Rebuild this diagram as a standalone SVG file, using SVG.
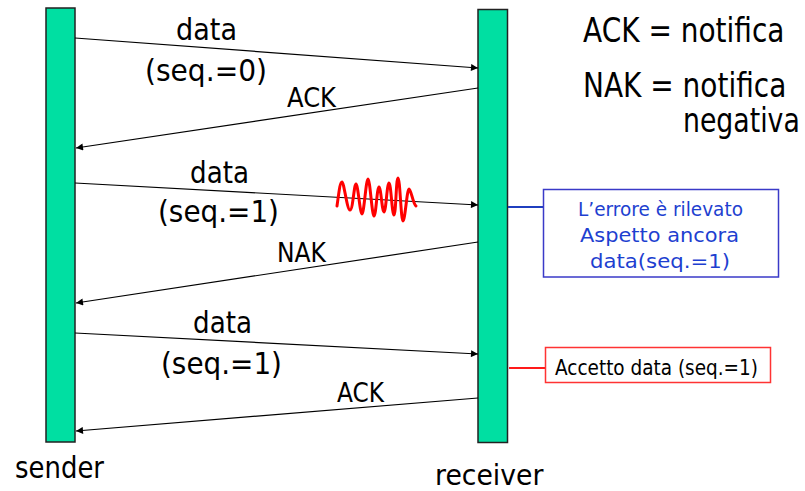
<svg xmlns="http://www.w3.org/2000/svg" width="805" height="491" viewBox="0 0 805 491">
  <defs>
    <marker id="arrow" viewBox="0 0 10 10" refX="10" refY="5" markerWidth="8" markerHeight="7" markerUnits="userSpaceOnUse" orient="auto">
      <path d="M0,0 L10,5 L0,10 z" fill="#000"/>
    </marker>
    <style>
      .bar { fill: #00DFA2; stroke: #222; stroke-width: 1.5; }
      .msg { stroke: #000; stroke-width: 1.2; fill: none; marker-end: url(#arrow); }
      .lbl { font-family: "DejaVu Sans", Verdana, sans-serif; fill: #000; }
      .big { font-size: 30px; }
      .mid { font-size: 26px; }
      .leg { font-size: 33px; }
      .note { font-family: "DejaVu Sans", Verdana, sans-serif; font-size: 19.5px; }
      .blue { fill: #1E3FD0; }
    </style>
  </defs>

  <!-- timelines -->
  <g id="sender">
    <rect class="bar" x="46" y="8" width="29" height="434"/>
    <text class="lbl big" x="15" y="478" textLength="89" lengthAdjust="spacingAndGlyphs">sender</text>
  </g>
  <g id="receiver">
    <rect class="bar" x="478" y="9.5" width="29.5" height="433"/>
    <!-- narrowed with a horizontal scale so the glyph box stays inside the canvas -->
    <text class="lbl" font-size="29" transform="translate(435,485) scale(0.92,1)">receiver</text>
  </g>

  <!-- legend: horizontally condensed lines -->
  <g id="legend" class="lbl leg">
    <text transform="translate(583,42) scale(0.848,1)">ACK = notifica</text>
    <text transform="translate(583,97) scale(0.848,1)">NAK = notifica</text>
    <text transform="translate(683,132) scale(0.81,1)">negativa</text>
  </g>

  <!-- messages -->
  <g id="connectors">
    <line class="msg" x1="75" y1="38" x2="478" y2="68"/>
    <line class="msg" x1="478" y1="88" x2="76" y2="148"/>
    <line class="msg" x1="75" y1="183" x2="478" y2="205"/>
    <line class="msg" x1="478" y1="242" x2="76" y2="303"/>
    <line class="msg" x1="75" y1="333" x2="478" y2="354"/>
    <line class="msg" x1="478" y1="398" x2="76" y2="431"/>
    <line x1="508" y1="207" x2="543" y2="207" stroke="#1F3FBF" stroke-width="2"/>
    <line x1="509" y1="368" x2="545" y2="368" stroke="#FF1A1A" stroke-width="2"/>
  </g>

  <!-- message labels -->
  <g id="labels" class="lbl">
    <text class="big" x="176" y="40" textLength="61" lengthAdjust="spacingAndGlyphs">data</text>
    <text class="big" x="145" y="81" textLength="122" lengthAdjust="spacingAndGlyphs">(seq.=0)</text>
    <text class="mid" x="287" y="107" textLength="49" lengthAdjust="spacingAndGlyphs">ACK</text>
    <text class="big" x="190" y="183" textLength="59" lengthAdjust="spacingAndGlyphs">data</text>
    <text class="big" x="158" y="222" textLength="121" lengthAdjust="spacingAndGlyphs">(seq.=1)</text>
    <text class="mid" x="277" y="262" textLength="49" lengthAdjust="spacingAndGlyphs">NAK</text>
    <text class="big" x="193" y="333" textLength="59" lengthAdjust="spacingAndGlyphs">data</text>
    <text class="big" x="161" y="374" textLength="121" lengthAdjust="spacingAndGlyphs">(seq.=1)</text>
    <text class="mid" x="337" y="402" textLength="47" lengthAdjust="spacingAndGlyphs">ACK</text>
  </g>

  <!-- noise on the channel -->
  <g id="noise">
    <path d="M337,206 C339,192 340,182 342,182 S347,210 350,210 S354,184 356,184 S360,214 362,214 S366,179 368,179 S372,216 374,216 S377,187 379,187 S382,212 384,212 S387,183 389,183 S392,215 394,215 S396,178 398,178 S401,221 403,221 S407,189 409,189 S413,204 416,206" fill="none" stroke="#FF0000" stroke-width="3" stroke-linejoin="round" stroke-linecap="round"/>
  </g>

  <!-- receiver notes -->
  <g id="note-error">
    <rect x="543.5" y="189.5" width="235" height="87.5" fill="#fff" stroke="#3A3AC8" stroke-width="1.5"/>
    <text class="note blue" x="578" y="216" textLength="165" lengthAdjust="spacingAndGlyphs">L’errore è rilevato</text>
    <text class="note blue" x="580" y="242" textLength="159" lengthAdjust="spacingAndGlyphs">Aspetto ancora</text>
    <text class="note blue" x="590" y="268" textLength="140" lengthAdjust="spacingAndGlyphs">data(seq.=1)</text>
  </g>
  <g id="note-accept">
    <rect x="545.5" y="347.5" width="225" height="35" fill="#fff" stroke="#FF3333" stroke-width="1.5"/>
    <text class="lbl" font-size="20.5" x="555" y="375" textLength="203" lengthAdjust="spacingAndGlyphs">Accetto data (seq.=1)</text>
  </g>
</svg>
